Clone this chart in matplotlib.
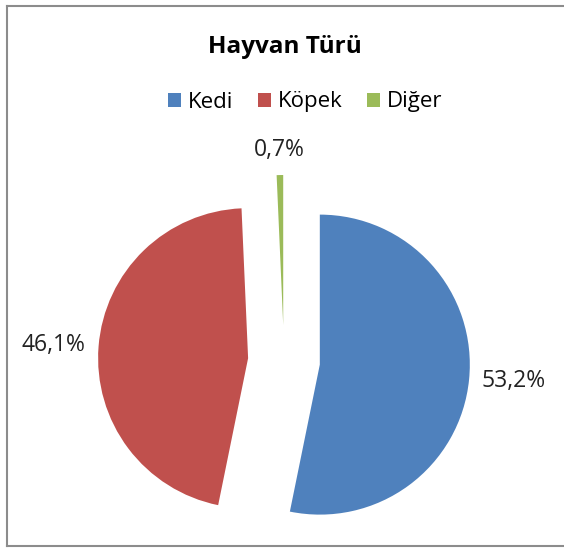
import numpy as np
import matplotlib
matplotlib.use("Agg")
import matplotlib.pyplot as plt
from matplotlib.patches import Rectangle
from matplotlib.lines import Line2D

title = "Hayvan Türü"
categories = ["Kedi", "Köpek", "Diğer"]
shares = [53.2, 46.1, 0.7]
pct_labels = ["53,2%", "46,1%", "0,7%"]
colors = ["#4F81BD", "#C0504D", "#9BBB59"]

W, H = 564, 549
plt.rcParams['font.family'] = ['Open Sans', 'DejaVu Sans']

fig = plt.figure(figsize=(W / 100, H / 100), dpi=100)
ax = fig.add_axes((0, 0, 1, 1))

radius = 150
center = (284, H - 361)
explode = [36, 36, 36]

wedges, _ = ax.pie(shares, colors=colors, startangle=90, counterclock=False,
                   radius=radius, center=center, explode=explode,
                   wedgeprops=dict(linewidth=0), frame=True)
ax.set_aspect("auto")
ax.set_xlim(0, W)
ax.set_ylim(0, H)
ax.set_axis_off()

# chart frame (Excel style, right edge runs off the image)
fx0, fy0, fy1 = 6.5 / W, 1 - 546 / H, 1 - 6 / H
for xs, ys in [([fx0, fx0], [fy0, fy1]), ([fx0, 1.0], [fy1, fy1]), ([fx0, 1.0], [fy0, fy0])]:
    fig.add_artist(Line2D(xs, ys, color="#8c8c8c", lw=1.5, transform=fig.transFigure))

# data labels at "outside end"
gap = 13
for w, lab in zip(wedges, pct_labels):
    mid = np.deg2rad((w.theta1 + w.theta2) / 2)
    cx, cy = w.center
    dx, dy = np.cos(mid), np.sin(mid)
    x = cx + (w.r + gap) * dx
    y = cy + (w.r + gap) * dy
    ha = "left" if dx > 0.3 else ("right" if dx < -0.3 else "center")
    va = "bottom" if dy > 0.3 else ("top" if dy < -0.3 else "center")
    ax.text(x, y, lab, ha=ha, va=va, fontsize=16.5, color="#222222")

ax.text(285, H - 47, title, ha="center", va="center", fontsize=17.5,
        fontweight="bold", color="black")

handles = [Rectangle((0, 0), 1, 1, facecolor=c, edgecolor="none") for c in colors]
fig.legend(handles, categories, loc="center", bbox_to_anchor=(305 / W, 1 - 102 / H),
           ncol=3, frameon=False, fontsize=16, handlelength=0.6, handleheight=0.6,
           handletextpad=0.3, columnspacing=1.1)

fig.savefig("out.png", dpi=100)
